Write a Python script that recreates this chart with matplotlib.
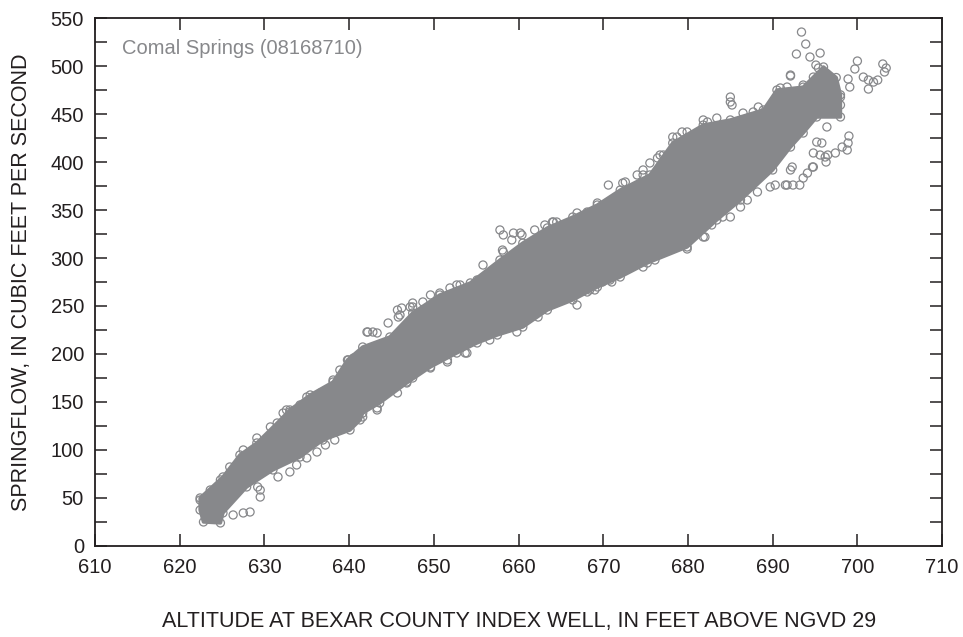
import matplotlib
matplotlib.use("Agg")
import matplotlib.pyplot as plt

# Dense core of daily observations: upper envelope (left to right),
# then lower envelope (right to left)
core_upper_x = [622.4, 625.1, 627.1, 629.1, 631.5, 633.0, 635.4, 638.1, 639.8, 641.6,
                644.8, 647.5, 650.7, 654.3, 657.8, 660.5, 663.4, 666.4, 669.3, 672.0,
                675.5, 678.2, 681.8, 685.0, 688.9, 690.5, 693.6, 694.8, 696.0, 697.5]
core_upper_y = [50.0, 71.9, 94.8, 107.3, 128.1, 141.7, 157.3, 170.8, 193.8, 207.3,
                217.7, 242.7, 261.5, 274.0, 297.9, 315.6, 331.3, 342.7, 355.2, 370.8,
                386.5, 419.8, 438.5, 443.8, 454.2, 475.0, 478.0, 488.5, 499.0, 488.0]
core_lower_x = [698.0, 698.0, 695.2, 693.6, 692.1, 690.0, 686.2, 683.4, 679.9, 675.2,
                672.0, 669.3, 666.4, 663.4, 660.5, 657.5, 655.1, 652.7, 649.6, 646.8,
                643.6, 641.6, 641.3, 640.1, 636.9, 634.2, 631.0, 627.9, 625.1, 624.8,
                622.8, 622.4]
core_lower_y = [470.0, 446.9, 446.9, 430.2, 415.6, 391.7, 360.4, 339.6, 311.5, 294.8,
                280.2, 269.8, 256.3, 245.8, 228.1, 219.8, 211.5, 201.0, 186.5, 169.8,
                149.0, 138.5, 131.3, 120.8, 110.4, 92.7, 79.2, 61.5, 34.4, 24.0,
                25.0, 37.5]

# Individual observations around and along the edge of the core
obs_x = [636.2, 637.2, 635.0, 633.0, 633.8, 631.6, 629.5, 629.5, 629.2, 622.4,
         623.0, 628.3, 627.5, 626.3, 638.3, 636.8, 624.4, 632.6, 634.5, 643.3,
         642.2, 643.3, 644.6, 639.9, 646.0, 647.2, 666.9, 659.8, 645.8, 646.2,
         647.5, 648.7, 640.5, 642.1, 642.8, 652.7, 653.9, 651.6, 646.8, 657.8,
         658.2, 659.4, 660.4, 658.1, 655.8, 661.9, 663.1, 664.1, 670.6, 672.6,
         668.1, 669.0, 669.9, 670.8, 685.0, 685.0, 685.2, 688.3, 692.1, 678.2,
         676.4, 677.1, 674.7, 674.0, 679.3, 681.8, 691.7, 692.4, 693.2, 693.6,
         694.1, 694.8, 690.3, 688.2, 692.1, 692.3, 695.2, 695.8, 696.2, 682.0,
         682.8, 685.0, 686.2, 693.4, 693.9, 692.8, 695.6, 694.4, 695.1, 695.4,
         692.1, 700.0, 699.7, 698.9, 699.1, 700.7, 701.3, 701.3, 701.9, 702.4,
         703.0, 703.4, 703.2, 698.0, 698.0, 697.1, 696.4, 699.0, 698.9, 698.8,
         698.2, 697.4, 696.5, 696.3, 695.6, 694.8, 694.7, 691.5, 681.8, 679.9,
         676.1, 659.2, 660.2, 664.0, 664.5, 666.9, 668.1, 669.3, 672.3, 674.7,
         658.2, 668.4, 669.6, 671.0, 674.7, 662.3, 660.5, 656.6, 653.7, 651.6,
         649.6, 647.5, 645.7, 643.3, 641.6, 640.1, 649.6, 650.7, 651.9, 653.1,
         655.1, 656.3, 647.5, 645.7, 638.1, 638.9, 634.2, 633.0, 632.2, 630.7,
         629.1, 627.5, 625.9, 624.8, 623.6, 635.0, 636.6, 678.7, 679.9, 682.3,
         683.4, 686.5, 687.7, 689.7, 690.9, 691.7, 693.6, 675.5, 676.7, 682.3,
         684.1, 687.0, 689.7, 679.1, 677.1]
obs_y = [97.9, 105.2, 91.7, 77.1, 84.4, 71.9, 58.3, 51.0, 61.5, 47.9,
         50.0, 35.4, 34.4, 32.3, 110.4, 112.5, 48.0, 141.7, 145.0, 141.7,
         222.9, 221.9, 232.3, 193.8, 240.6, 249.0, 251.0, 222.9, 238.5, 247.9,
         249.0, 254.2, 195.8, 222.9, 222.9, 271.9, 201.0, 191.7, 170.8, 329.2,
         324.0, 326.0, 324.0, 308.3, 292.7, 329.2, 334.4, 337.5, 376.0, 379.2,
         264.6, 266.7, 275.0, 277.1, 467.7, 462.5, 459.4, 457.3, 490.6, 426.0,
         404.2, 407.3, 391.7, 386.5, 431.3, 443.8, 376.0, 376.0, 376.0, 383.3,
         388.5, 394.8, 376.0, 368.8, 391.7, 394.8, 420.8, 419.8, 405.2, 321.9,
         334.4, 342.7, 353.1, 535.4, 522.9, 512.5, 513.5, 509.4, 501.0, 497.9,
         489.6, 505.2, 496.9, 486.5, 478.1, 488.5, 485.4, 476.0, 483.3, 485.4,
         502.1, 497.9, 493.8, 467.7, 459.4, 454.2, 436.5, 427.1, 419.8, 412.5,
         415.6, 409.4, 407.3, 400.0, 407.3, 409.4, 394.8, 376.0, 321.9, 309.4,
         297.9, 318.8, 326.0, 337.5, 337.5, 346.9, 347.9, 357.3, 378.1, 386.5,
         306.3, 266.7, 277.1, 275.0, 290.6, 238.5, 232.3, 214.6, 201.0, 193.8,
         185.4, 175.0, 159.4, 143.8, 134.4, 128.1, 261.5, 263.5, 268.8, 271.9,
         277.1, 282.3, 253.1, 245.8, 172.9, 183.3, 146.9, 139.6, 138.5, 124.0,
         112.5, 100.0, 82.3, 68.8, 58.3, 155.2, 159.4, 426.0, 431.3, 441.7,
         445.8, 451.0, 452.1, 454.2, 477.1, 478.1, 480.2, 399.0, 407.3, 336.5,
         342.7, 360.4, 374.0, 318.8, 311.5]

x_ticks = [610, 620, 630, 640, 650, 660, 670, 680, 690, 700, 710]
y_ticks = [0, 50, 100, 150, 200, 250, 300, 350, 400, 450, 500, 550]
y_minor = [25, 75, 125, 175, 225, 275, 325, 375, 425, 475, 525]

GRAY = "#87888b"
INK = "#231f20"

plt.rcParams["font.family"] = ["Liberation Sans", "DejaVu Sans"]

fig = plt.figure(figsize=(9.63, 6.37), dpi=100)
ax = fig.add_axes([0.0987, 0.1429, 0.8796, 0.8288])

# solid core, softened outline
ax.fill(core_upper_x + core_lower_x, core_upper_y + core_lower_y,
        facecolor=GRAY, edgecolor=GRAY, lw=2.5, joinstyle="round", zorder=2)

# open circles on the envelope and around it
ax.scatter(core_upper_x + core_lower_x, core_upper_y + core_lower_y, s=34,
           facecolors="none", edgecolors=GRAY, linewidths=0.9, zorder=3)
ax.scatter(obs_x, obs_y, s=34, facecolors="none", edgecolors=GRAY,
           linewidths=0.9, zorder=3)

ax.set_xlim(610, 710)
ax.set_ylim(0, 550)
ax.set_xticks(x_ticks)
ax.set_yticks(y_ticks)
ax.set_yticks(y_minor, minor=True)

ax.tick_params(axis="both", which="both", direction="in", top=True, right=True,
               colors=INK, labelsize=14.5, width=1.1, length=8.5, pad=8)
ax.tick_params(axis="x", pad=9)
for sp in ax.spines.values():
    sp.set_color(INK)
    sp.set_linewidth(1.3)

ax.set_xlabel("ALTITUDE AT BEXAR COUNTY INDEX WELL, IN FEET ABOVE NGVD 29",
              fontsize=15.5, color=INK)
ax.xaxis.set_label_coords(0.5, -0.123)
ax.set_ylabel("SPRINGFLOW, IN CUBIC FEET PER SECOND", fontsize=15.5, color=INK)
ax.yaxis.set_label_coords(-0.074, 0.5)

ax.text(0.032, 0.960, "Comal Springs (08168710)", transform=ax.transAxes,
        fontsize=14.5, color=GRAY, ha="left", va="top")

fig.savefig("out.png", dpi=100)
